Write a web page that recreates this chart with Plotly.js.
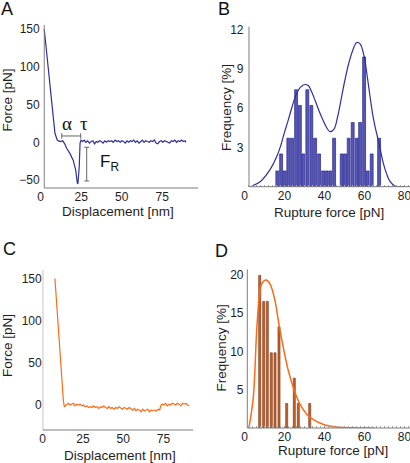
<!DOCTYPE html>
<html>
<head>
<meta charset="utf-8">
<script src="https://cdn.plot.ly/plotly-3.0.1.min.js"></script>
<style>html,body{margin:0;padding:0;background:#fff}#chart{width:410px;height:463px}</style>
</head>
<body>
<div id="chart"></div>
<script>
// ---- Panel A: force curve (blue) ----
const aDisp = [2.2,3.7,5.3,6.8,7.8,8.8,10.2,11.9,13.6,14.8,16.0,18.1,20.1,21.6,22.6,23.0,23.8,24.3,24.9,
  25.8,26.9,27.9,29.0,30.1,31.1,32.2,33.2,34.3,35.3,36.4,37.4,38.5,39.6,40.6,41.7,42.7,43.8,44.8,45.9,46.9,
  48.0,49.1,50.1,51.2,52.2,53.3,54.3,55.4,56.4,57.5,58.5,59.6,60.7,61.7,62.8,63.8,64.9,65.9,67.0,68.0,69.1,
  70.2,71.2,72.3,73.3,74.4,75.4,76.5,77.5,78.6,79.6,80.7,81.8,82.8,83.9,84.9,86.0,87.0,88.1,89.1,89.7];
const aForce = [150,118,83,52,30,12,3,1,2,-2,-8,-15,-24,-37,-54,-55,-32,-1,3,
  1,3,0,2,-1,1,2,-2,1,0,2,1,-1,2,0,2,1,2,0,3,1,
  2,0,2,1,-1,2,0,2,1,3,0,2,-1,1,3,0,2,1,0,2,1,
  3,-1,-2,1,2,0,2,1,0,-1,2,1,3,0,2,1,3,1,2,0];

// ---- Panel B: rupture force histogram (blue) ----
const bForce = [16.4,18.3,20.1,21.9,23.8,25.8,27.7,29.4,31.4,33.4,35.3,37.3,39.3,41.1,42.9,44.8,
  48.6,50.3,52.1,54.1,56.1,57.8,59.8,61.6,63.6,67.3];
const bFreq = [1.2,2.5,1.2,3.7,3.7,7.4,6.2,2.5,7.4,6.2,3.7,2.5,1.2,1.2,1.2,3.7,
  2.5,2.5,3.7,4.9,3.7,4.9,9.9,1.2,2.5,3.7];
const bFitX = [3.6,8,12.75,16.4,18.25,20.1,21.9,23.8,25.75,28,30.25,32,33.4,35.5,37.75,39.5,41.1,42.75,
  44.75,46.5,48.6,50.3,52.1,54.1,56.1,57.8,59.75,61.2,62.75,64,65.25,67.25,69.4,71,72.75,75.25,78,80];
const bFitY = [0.05,0.4,1.3,2.4,3.2,4.2,5.1,6.1,7.0,7.6,7.8,7.7,7.3,6.5,5.6,5.0,4.5,4.2,
  4.4,5.3,6.9,8.2,9.4,10.4,11.0,10.9,10.0,8.6,6.9,5.6,4.6,3.3,1.8,1.0,0.4,0.05,0,0];

// ---- Panel C: force curve (orange) ----
const cDisp = [7.6,8.7,9.7,10.7,11.8,12.8,13.4,14.5,15.9,17.0,18.0,19.1,20.1,21.2,22.2,23.3,24.3,25.4,26.4,
  27.5,28.5,29.6,30.6,31.7,32.7,33.8,34.8,35.9,36.9,38.0,39.0,40.1,41.1,42.2,43.2,44.3,45.3,46.4,47.4,48.5,
  49.5,50.6,51.6,52.7,53.7,54.8,55.8,56.9,57.9,59.0,60.0,61.1,62.1,63.2,64.2,65.3,66.3,67.4,68.4,69.5,70.5,
  71.6,72.6,73.4,74.2,75.2,76.3,77.3,78.4,79.4,80.5,81.5,82.6,83.6,84.7,85.7,86.8,87.8,88.9,89.9,91.0];
const cForce = [150,120,89,57,30,6,-2,0,2,0,1,2,-1,1,0,1,-1,0,-2,
  -1,-3,-2,-3,-1,-3,-2,-4,-2,-3,-1,-3,-4,-2,-4,-3,-5,-3,-4,-2,-4,
  -5,-3,-4,-5,-3,-4,-6,-4,-7,-5,-6,-8,-5,-7,-6,-5,-8,-6,-7,-6,-7,
  -5,-6,0,1,0,2,-1,1,0,2,1,0,2,1,-1,2,1,2,0,-1];

// ---- Panel D: rupture force histogram (orange) ----
const dForce = [7.6,9.6,11.4,13.4,15.25,17.25,21.1,24.9,26.9,32.6];
const dFreq = [19.9,16.5,16.5,9.8,9.8,13.2,3.2,6.5,3.2,3.2];
const dFitX = [2.2,4.4,6.1,7.6,8.6,10.75,12.75,15.25,16.9,19.4,21.9,24.9,27.75,31.1,35.25,40.25,45.25,50,55,60,65];
const dFitY = [0,4.0,12.7,17.7,18.8,19.3,18.8,16.6,14.0,10.5,7.5,4.9,3.1,1.8,0.95,0.4,0.15,0.05,0.02,0,0];

// ---- tick labels ----
const dispTicks = [0,25,50,75];
const ruptTicks = [0,20,40,60,80];
const forceTicksA = [-50,0,50,100,150];
const forceTicksC = [0,50,100,150];
const freqTicksB = [3,6,9,12];
const freqTicksD = [5,10,15,20];

const W = 410, H = 463;
const px = v => v / W;
const py = v => 1 - v / H;
const FONT = 'Liberation Sans, Arial, Helvetica, sans-serif';
const BLUE = '#2f2f9e', ORANGE = '#ff6a14', AXC = '#7d7d7d';
const TITLE_FONT = {family: FONT, size: 13.5, color: '#1e1e1e'};

const traces = [
  {x: aDisp, y: aForce, xaxis: 'x', yaxis: 'y', type: 'scatter', mode: 'lines',
   line: {color: BLUE, width: 1.2}, hoverinfo: 'skip'},
  {x: bForce, y: bFreq, xaxis: 'x2', yaxis: 'y2', type: 'bar', width: 1.45,
   marker: {color: '#5656b6', line: {color: '#25258a', width: 0.7}}, hoverinfo: 'skip'},
  {x: bFitX, y: bFitY, xaxis: 'x2', yaxis: 'y2', type: 'scatter', mode: 'lines',
   line: {color: BLUE, width: 1.2, shape: 'spline'}, hoverinfo: 'skip'},
  {x: cDisp, y: cForce, xaxis: 'x3', yaxis: 'y3', type: 'scatter', mode: 'lines',
   line: {color: ORANGE, width: 1.2}, hoverinfo: 'skip'},
  {x: dForce, y: dFreq, xaxis: 'x4', yaxis: 'y4', type: 'bar', width: 1.0,
   marker: {color: '#c4642c', line: {color: '#8a3a14', width: 0.7}}, hoverinfo: 'skip'},
  {x: dFitX, y: dFitY, xaxis: 'x4', yaxis: 'y4', type: 'scatter', mode: 'lines',
   line: {color: ORANGE, width: 1.5, shape: 'spline'}, hoverinfo: 'skip'}
];

const baseAx = {showgrid: false, zeroline: false, showline: false, ticks: '',
  ticklabeloverflow: 'allow',
  tickfont: {family: FONT, size: 12, color: '#1e1e1e'}, fixedrange: true};

const layout = {
  width: W, height: H, margin: {l: 0, r: 0, t: 0, b: 0},
  paper_bgcolor: '#fff', plot_bgcolor: 'rgba(0,0,0,0)', showlegend: false,
  font: {family: FONT, size: 12, color: '#1e1e1e'},
  bargap: 0,
  xaxis: Object.assign({}, baseAx, {domain: [px(40.7), px(198.3)], range: [0, 97.3], tickvals: dispTicks, anchor: 'y'}),
  yaxis: Object.assign({}, baseAx, {domain: [py(188), py(25)], range: [-60.6, 155.6], tickvals: forceTicksA, anchor: 'x'}),
  xaxis2: Object.assign({}, baseAx, {domain: [px(244.5), 1], range: [0, 82.75], tickvals: ruptTicks, anchor: 'y2',
    ticks: 'inside', ticklen: 2, tickcolor: '#999',
    minor: {dtick: 2, tick0: 0, ticks: 'inside', ticklen: 2, tickcolor: '#aaa'}}),
  yaxis2: Object.assign({}, baseAx, {domain: [py(186.7), py(26.7)], range: [0, 12.21], tickvals: freqTicksB, anchor: 'x2'}),
  xaxis3: Object.assign({}, baseAx, {domain: [px(42.7), px(193.3)], range: [0, 93.5], tickvals: dispTicks, anchor: 'y3'}),
  yaxis3: Object.assign({}, baseAx, {domain: [py(430), py(270)], range: [-29.6, 160], tickvals: forceTicksC, anchor: 'x3'}),
  xaxis4: Object.assign({}, baseAx, {domain: [px(244.5), 1], range: [0, 82.75], tickvals: ruptTicks, anchor: 'y4',
    ticks: 'inside', ticklen: 2, tickcolor: '#999',
    minor: {dtick: 2, tick0: 0, ticks: 'inside', ticklen: 2, tickcolor: '#aaa'}}),
  yaxis4: Object.assign({}, baseAx, {domain: [py(428), py(269.3)], range: [0, 20.69], tickvals: freqTicksD, anchor: 'x4'}),
  shapes: [],
  annotations: []
};

// axis lines (left and bottom) drawn where the reference draws them
function axisLines(xa, ya, x0, x1) {
  const yd = ya + ' domain';
  layout.shapes.push({type: 'line', xref: xa, yref: yd, x0: x0, x1: x0, y0: 0, y1: 1, line: {color: AXC, width: 1}});
  layout.shapes.push({type: 'line', xref: xa, yref: yd, x0: x0, x1: x1, y0: 0, y1: 0, line: {color: AXC, width: 1}});
}
axisLines('x', 'y', 2.2, 97.3);
axisLines('x2', 'y2', 2.25, 82.75);
axisLines('x3', 'y3', 0, 93.5);
axisLines('x4', 'y4', 1.4, 82.75);

// Panel A markers: alpha bracket and F_R bar
const GR = '#666';
layout.shapes.push(
  {type: 'line', xref: 'x', yref: 'y', x0: 13.0, x1: 24.7, y0: 8.4, y1: 8.4, line: {color: GR, width: 1}},
  {type: 'line', xref: 'x', yref: 'y', x0: 13.0, x1: 13.0, y0: 4.8, y1: 12.0, line: {color: GR, width: 1}},
  {type: 'line', xref: 'x', yref: 'y', x0: 24.7, x1: 24.7, y0: 4.8, y1: 12.0, line: {color: GR, width: 1}},
  {type: 'line', xref: 'x', yref: 'y', x0: 28.4, x1: 28.4, y0: -6.6, y1: -51.3, line: {color: GR, width: 1}},
  {type: 'line', xref: 'x', yref: 'y', x0: 26.9, x1: 29.9, y0: -6.6, y1: -6.6, line: {color: GR, width: 1}},
  {type: 'line', xref: 'x', yref: 'y', x0: 26.9, x1: 29.9, y0: -51.3, y1: -51.3, line: {color: GR, width: 1}}
);

function ann(text, x, y, opts) {
  layout.annotations.push(Object.assign({text: text, x: px(x), y: py(y), xref: 'paper', yref: 'paper',
    showarrow: false, xanchor: 'center', yanchor: 'middle', font: TITLE_FONT}, opts || {}));
}
// panel letters
const LET = {family: FONT, size: 18, color: '#111'};
ann('A', 6.5, 8.5, {font: LET});
ann('B', 224, 8.5, {font: LET});
ann('C', 9, 248.5, {font: LET});
ann('D', 221, 251, {font: LET});
// axis titles
ann('Force [pN]', 7, 100.5, {textangle: -90});
ann('Displacement [nm]', 118, 211.5);
ann('Frequency [%]', 226, 108, {textangle: -90});
ann('Rupture force [pN]', 329, 212.5);
ann('Force [pN]', 7, 346, {textangle: -90});
ann('Displacement [nm]', 120, 455);
ann('Frequency [%]', 221.7, 347.7, {textangle: -90});
ann('Rupture force [pN]', 333, 450.5);
// panel A symbols
const SERIF = {family: 'Liberation Serif, DejaVu Serif, serif', size: 19, color: '#111'};
layout.annotations.push(
  {text: 'α', xref: 'x', yref: 'y', x: 16.0, y: 25.2, showarrow: false, font: SERIF},
  {text: 'τ', xref: 'x', yref: 'y', x: 27.0, y: 25.2, showarrow: false, font: SERIF},
  {text: 'F<sub>R</sub>', xref: 'x', yref: 'y', x: 35.6, y: -27.5, xanchor: 'left', showarrow: false,
   font: {family: FONT, size: 17, color: '#111'}}
);

Plotly.newPlot('chart', traces, layout, {staticPlot: true, displayModeBar: false});
</script>
</body>
</html>
